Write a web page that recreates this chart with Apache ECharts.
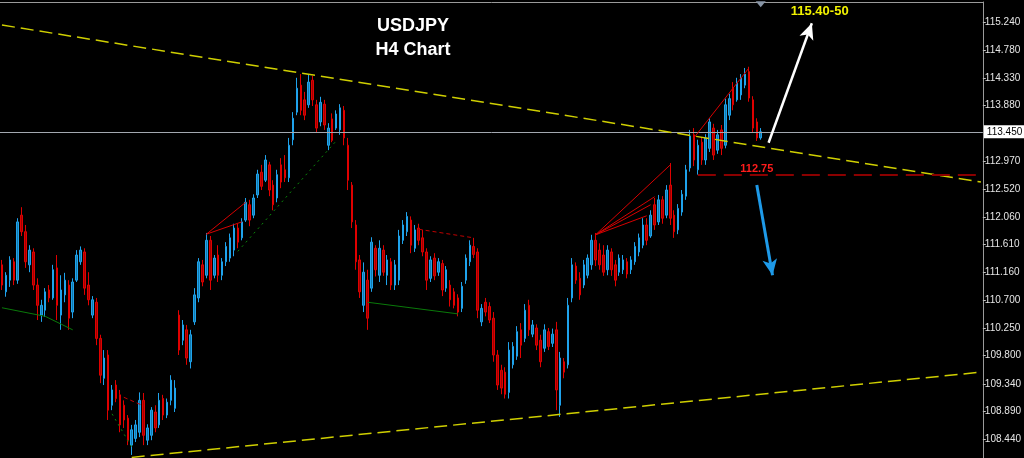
<!DOCTYPE html>
<html>
<head>
<meta charset="utf-8">
<script src="https://cdn.jsdelivr.net/npm/echarts@6/dist/echarts.min.js"></script>
<style>
  html, body { margin: 0; padding: 0; background: #000; }
  #chart { width: 1024px; height: 458px; }
</style>
</head>
<body>
<div id="chart"></div>
<script>
// USDJPY H4 bars: open / close / low / high
const opens = [
  111.28,110.84,111.03,111.33,111.03,112.09,111.82,111.28,111.49,110.95,
  110.46,110.54,110.87,110.74,111.23,110.46,110.79,110.95,110.51,111.03,
  111.33,111.49,110.95,110.46,110.67,110.08,109.43,109.81,108.99,109.32,
  109.16,108.99,108.78,108.34,108.45,108.55,109.07,108.42,108.50,108.88,
  108.67,109.10,108.83,109.07,108.94,110.46,110.05,110.22,109.70,110.35,
  110.74,111.28,111.11,111.68,111.11,111.44,111.11,111.33,111.39,111.52,
  111.88,111.72,112.01,112.26,112.09,112.42,112.79,112.66,112.91,112.58,
  112.37,112.91,112.83,112.70,113.32,113.77,114.21,113.97,113.89,114.29,
  113.89,113.61,113.90,113.23,113.66,113.51,113.48,113.80,113.23,112.58,
  111.93,111.36,110.62,111.03,110.90,111.55,111.11,111.52,111.11,111.33,
  110.95,111.03,111.68,111.82,112.01,111.55,111.88,111.72,111.49,111.06,
  111.39,111.16,111.30,110.90,110.95,110.84,110.74,110.57,111.03,111.33,
  111.58,111.49,110.35,110.67,110.60,110.41,109.81,109.56,109.53,109.20,
  109.65,109.79,110.22,110.08,110.62,110.15,110.25,110.05,109.92,110.19,
  110.00,110.22,108.99,109.70,109.65,110.74,111.26,111.06,110.95,111.11,
  111.28,111.68,111.52,111.44,111.20,111.49,111.28,111.16,111.20,111.33,
  111.20,111.33,111.49,111.60,111.93,111.75,112.26,111.98,112.34,112.09,
  112.58,112.09,111.85,112.14,112.40,112.86,113.40,112.83,113.28,112.99,
  113.18,113.51,113.15,113.48,113.23,113.72,114.16,113.97,114.05,114.21,
  114.43,113.97,113.61,113.35
];
const closes = [
  110.95,111.11,111.36,111.03,111.98,111.82,111.33,111.52,110.95,110.62,
  110.62,110.84,110.74,111.20,110.62,110.87,111.03,110.41,111.00,111.44,
  111.52,110.90,110.71,110.71,110.08,109.48,109.76,108.91,109.24,109.10,
  108.67,108.75,108.42,108.59,108.67,109.07,108.50,108.62,108.91,108.62,
  109.07,108.83,109.04,109.40,109.27,109.89,110.30,109.76,110.14,110.79,
  111.33,111.00,111.68,111.03,111.39,111.11,111.33,111.58,111.72,111.88,
  111.65,111.98,112.30,112.01,112.37,112.76,112.56,112.99,112.50,112.26,
  112.75,112.63,112.70,113.23,113.67,114.16,113.80,113.72,114.26,113.97,
  113.51,113.93,113.56,113.51,113.31,113.74,113.84,113.35,112.66,111.98,
  111.33,110.84,111.16,110.41,111.65,111.20,111.55,111.16,111.36,110.95,
  111.28,111.75,111.93,112.07,111.60,111.85,111.68,111.49,111.03,111.36,
  111.10,111.33,110.87,111.20,110.71,110.62,110.51,110.93,111.39,111.60,
  111.45,110.54,110.57,110.51,110.38,109.81,109.32,109.27,109.17,109.89,
  109.95,110.19,109.97,110.54,110.22,110.30,109.97,109.70,110.22,109.95,
  110.15,109.24,109.76,109.53,110.62,111.28,111.03,110.79,111.28,111.39,
  111.68,111.36,111.28,111.16,111.52,111.20,111.03,111.39,111.36,111.13,
  111.36,111.58,111.72,111.93,111.68,112.09,111.93,112.34,112.04,112.50,
  112.04,111.82,112.20,112.43,112.83,113.38,112.99,113.23,112.99,113.35,
  113.61,113.07,113.40,113.18,113.89,113.99,113.89,114.26,114.33,114.39,
  114.00,113.51,113.35,113.45
];
const lows = [
  110.87,110.76,110.92,110.95,110.97,111.75,111.23,111.16,110.87,110.38,
  110.35,110.43,110.67,110.71,110.38,110.22,110.67,110.22,110.41,111.00,
  111.28,110.79,110.62,110.41,109.97,109.35,109.32,108.75,108.91,109.04,
  108.55,108.62,108.34,108.18,108.39,108.47,108.34,108.34,108.42,108.55,
  108.62,108.75,108.78,108.99,108.88,109.81,109.97,109.65,109.59,110.30,
  110.67,110.93,111.06,110.87,111.06,111.00,111.03,111.26,111.33,111.42,
  111.55,111.68,111.98,111.91,112.04,112.37,112.50,112.63,112.40,112.17,
  112.30,112.53,112.63,112.63,113.23,113.72,113.72,113.64,113.84,113.87,
  113.44,113.54,113.48,113.15,113.28,113.48,113.40,113.23,112.50,111.88,
  111.20,110.74,110.51,110.22,110.84,111.09,111.00,111.10,110.95,110.87,
  110.87,110.95,111.62,111.75,111.47,111.49,111.60,111.42,110.87,111.00,
  111.03,111.10,110.77,110.84,110.60,110.57,110.44,110.51,110.97,111.26,
  111.39,110.41,110.28,110.44,110.33,109.70,109.24,109.17,109.10,109.10,
  109.59,109.73,109.76,110.02,110.12,110.10,109.89,109.61,109.86,109.89,
  109.94,108.91,108.80,109.43,109.59,110.67,110.97,110.71,110.90,111.06,
  111.20,111.26,111.20,111.10,111.11,111.10,110.93,111.10,111.13,111.06,
  111.13,111.28,111.42,111.55,111.60,111.72,111.85,111.93,111.95,112.04,
  111.93,111.72,111.78,112.08,112.34,112.80,112.89,112.75,112.91,112.91,
  113.12,112.99,113.09,113.07,113.18,113.64,113.80,113.94,113.97,114.16,
  113.94,113.44,113.30,113.32
];
const highs = [
  111.36,111.16,111.42,111.39,112.04,112.22,111.93,111.60,111.55,111.06,
  110.71,110.90,110.95,111.28,111.44,111.11,111.15,111.03,111.06,111.52,
  111.58,111.55,111.16,110.77,110.74,110.14,109.89,109.89,109.32,109.40,
  109.24,109.07,108.83,108.67,108.75,109.20,109.19,108.68,108.96,108.99,
  109.19,109.16,109.10,109.48,109.40,110.54,110.38,110.30,110.22,110.90,
  111.39,111.36,111.80,111.75,111.44,111.60,111.39,111.65,111.79,111.95,
  111.95,112.04,112.37,112.34,112.43,112.83,112.91,113.07,112.96,112.66,
  112.83,113.02,113.07,113.35,113.77,114.33,114.39,114.10,114.39,114.36,
  113.97,114.02,113.97,113.59,113.75,113.80,113.90,113.87,113.35,112.63,
  112.01,111.44,111.32,111.20,111.73,111.60,111.68,111.60,111.44,111.39,
  111.36,111.85,112.01,112.14,112.07,111.93,111.95,111.85,111.55,111.42,
  111.47,111.39,111.36,111.26,111.03,110.90,110.80,111.00,111.45,111.68,
  111.72,111.55,110.64,110.74,110.67,110.51,109.89,109.65,109.61,110.02,
  110.02,110.28,110.33,110.64,110.71,110.38,110.31,110.14,110.31,110.25,
  110.24,110.35,109.86,109.76,110.74,111.39,111.32,111.16,111.36,111.45,
  111.77,111.80,111.63,111.60,111.60,111.55,111.36,111.45,111.44,111.39,
  111.42,111.65,111.79,112.04,112.04,112.17,112.37,112.42,112.40,112.58,
  112.94,112.17,112.27,112.50,112.91,113.48,113.51,113.32,113.35,113.41,
  113.67,113.58,113.48,113.56,113.99,114.07,114.26,114.33,114.39,114.49,
  114.51,114.03,113.67,113.51
];

// Axis setup
const slotCount = 250;
const priceMin = 108.13;
const priceMax = 115.566;
const priceTicks = [108.44, 108.89, 109.34, 109.80, 110.25, 110.70, 111.16, 111.61,
                    112.06, 112.52, 112.97, 113.88, 114.33, 114.78, 115.24];
const lastPrice = 113.45;
const supportLevel = 112.75;
const targetText = '115.40-50';
const targetLevel = 115.45;

// Drawn studies as [[barIndex, price], [barIndex, price]] segments
const channelLines = [
  [[0, 115.19], [249, 112.63]],
  [[33, 108.14], [249, 109.53]]
];
const redLines = [
  [[52, 111.78], [62, 112.30]],
  [[52, 111.78], [61, 111.98]],
  [[151, 111.77], [170, 112.91]],
  [[151, 111.77], [166, 112.39]],
  [[151, 111.77], [165, 112.26]],
  [[151, 111.77], [164, 112.08]],
  [[176, 113.35], [190, 114.49]]
];
const redDashedLines = [
  [[106, 111.86], [120, 111.72]],
  [[31, 109.12], [36, 108.98]]
];
const greenLines = [
  [[0, 110.58], [11, 110.44]],
  [[11, 110.44], [18, 110.22]],
  [[93, 110.67], [116, 110.48]]
];
const greenDottedLines = [
  [[28, 108.85], [33, 108.31]],
  [[60, 111.50], [85, 113.30]]
];
const bullArrow = [[195, 113.27], [206, 115.22]];
const bearArrow = [[192, 112.58], [196, 111.11]];
const supportStart = 177;
const shiftMarkBar = 193;

const FONT = "'Liberation Sans', Arial, sans-serif";
const slots = Array.from({ length: slotCount }, (_, i) => i);
const candles = opens.map((o, i) => [o, closes[i], lows[i], highs[i]]);

function segmentSeries(name, segments, lineStyle) {
  return {
    name: name,
    type: 'line',
    data: [],
    silent: true,
    markLine: {
      silent: true,
      symbol: 'none',
      label: { show: false },
      lineStyle: lineStyle,
      emphasis: { disabled: true },
      data: segments.map(s => [{ coord: s[0] }, { coord: s[1] }])
    }
  };
}

const chart = echarts.init(document.getElementById('chart'), null, { renderer: 'canvas' });

chart.setOption({
  backgroundColor: '#000',
  animation: false,
  title: {
    text: 'USDJPY',
    subtext: 'H4 Chart',
    left: 408,
    top: 12,
    textAlign: 'center',
    itemGap: 6,
    textStyle: { color: '#fff', fontSize: 18, fontWeight: 'bold', fontFamily: FONT },
    subtextStyle: { color: '#fff', fontSize: 18, fontWeight: 'bold', fontFamily: FONT }
  },
  grid: { left: 0, right: 36, top: 2, bottom: 0 },
  xAxis: {
    type: 'category',
    data: slots,
    position: 'top',
    boundaryGap: true,
    axisLine: { show: true, lineStyle: { color: '#9a9a9a', width: 1 } },
    axisTick: { show: false },
    axisLabel: { show: false },
    splitLine: { show: false }
  },
  yAxis: {
    type: 'value',
    position: 'right',
    min: priceMin,
    max: priceMax,
    axisLine: { show: true, lineStyle: { color: '#9a9a9a', width: 1 } },
    axisTick: { show: true, length: 3, customValues: priceTicks, lineStyle: { color: '#bdbdbd' } },
    axisLabel: {
      customValues: priceTicks,
      formatter: v => v.toFixed(3),
      color: '#e6e6e6',
      fontSize: 10,
      margin: 2,
      fontFamily: "'Liberation Sans Narrow', 'Liberation Sans', Arial, sans-serif"
    },
    splitLine: { show: false }
  },
  series: [
    {
      name: 'USDJPY',
      type: 'candlestick',
      data: candles,
      barWidth: 2,
      itemStyle: {
        color: '#137aad',
        color0: '#a00000',
        borderColor: '#1fa3ec',
        borderColor0: '#e00000',
        borderWidth: 1
      },
      markLine: {
        silent: true,
        symbol: 'none',
        lineStyle: { color: '#a3a8b0', type: 'solid', width: 1 },
        label: {
          position: 'end',
          distance: 1,
          formatter: () => lastPrice.toFixed(3),
          backgroundColor: '#ffffff',
          color: '#000000',
          fontSize: 10,
          fontFamily: FONT,
          padding: [2, 3, 1, 3]
        },
        data: [{ yAxis: lastPrice }]
      },
      markPoint: {
        silent: true,
        data: [{
          coord: [shiftMarkBar, priceMax - 0.035],
          symbol: 'triangle',
          symbolRotate: 180,
          symbolSize: [10, 6],
          itemStyle: { color: '#8895a6' },
          label: { show: false }
        }]
      }
    },
    segmentSeries('channel', channelLines, { color: '#cfcf00', type: [13, 6], width: 1.5 }),
    segmentSeries('green', greenLines, { color: '#0a7a0a', type: 'solid', width: 1 }),
    segmentSeries('greenDotted', greenDottedLines, { color: '#0b8a0b', type: [2, 4], width: 1 }),
    segmentSeries('red', redLines, { color: '#d80000', type: 'solid', width: 1 }),
    segmentSeries('redDashed', redDashedLines, { color: '#c00000', type: [4, 3], width: 1 }),
    {
      name: 'support',
      type: 'line',
      data: [],
      silent: true,
      markLine: {
        silent: true,
        symbol: 'none',
        label: { show: false },
        lineStyle: { color: '#8b0000', type: [18, 8], width: 2 },
        data: [[{ coord: [supportStart, supportLevel] }, { coord: [slotCount - 1, supportLevel] }]]
      },
      markPoint: {
        silent: true,
        data: [
          {
            coord: [192, supportLevel],
            symbolSize: 0,
            label: {
              show: true,
              position: 'inside',
              offset: [0, -6],
              formatter: () => supportLevel.toFixed(2),
              color: '#ff1c1c',
              fontSize: 11,
              fontWeight: 'bold',
              fontFamily: FONT
            }
          },
          {
            coord: [208, targetLevel],
            symbolSize: 0,
            label: {
              show: true,
              position: 'inside',
              offset: [0, 2],
              formatter: targetText,
              color: '#f2f200',
              fontSize: 13,
              fontWeight: 'bold',
              fontFamily: FONT
            }
          }
        ]
      }
    },
    {
      name: 'arrows',
      type: 'line',
      data: [],
      silent: true,
      markLine: {
        silent: true,
        symbol: ['none', 'arrow'],
        symbolSize: [11, 16],
        label: { show: false },
        data: [
          [{ coord: bullArrow[0] }, { coord: bullArrow[1], lineStyle: { color: '#ffffff', width: 2.5, type: 'solid' } }],
          [{ coord: bearArrow[0] }, { coord: bearArrow[1], lineStyle: { color: '#1e9ae8', width: 3, type: 'solid' } }]
        ]
      }
    }
  ]
});
</script>
</body>
</html>
